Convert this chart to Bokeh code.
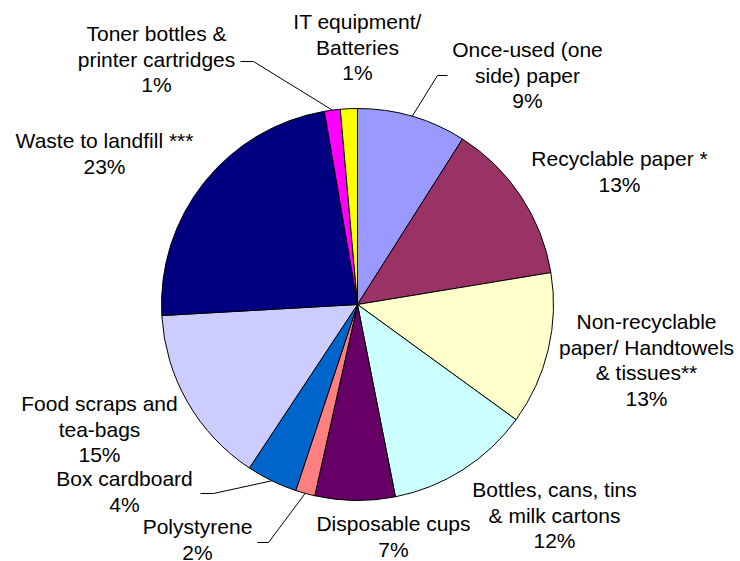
import math
from bokeh.plotting import figure
from bokeh.models import Range1d, ColumnDataSource
from bokeh.core.properties import value
from bokeh.embed import file_html
from bokeh.resources import INLINE

# ---- data ----
categories = [
    "Once-used (one side) paper",
    "Recyclable paper *",
    "Non-recyclable paper/ Handtowels & tissues**",
    "Bottles, cans, tins & milk cartons",
    "Disposable cups",
    "Polystyrene",
    "Box cardboard",
    "Food scraps and tea-bags",
    "Waste to landfill ***",
    "Toner bottles & printer cartridges",
    "IT equipment/ Batteries",
]
shares = [9.0, 13.4, 12.6, 11.9, 6.6, 1.6, 4.2, 14.8, 23.2, 1.3, 1.4]
label_lines = [
    ["Once-used (one", "side) paper"],
    ["Recyclable paper *"],
    ["Non-recyclable", "paper/ Handtowels", "& tissues**"],
    ["Bottles, cans, tins", "& milk cartons"],
    ["Disposable cups"],
    ["Polystyrene"],
    ["Box cardboard"],
    ["Food scraps and", "tea-bags"],
    ["Waste to landfill ***"],
    ["Toner bottles &", "printer cartridges"],
    ["IT equipment/", "Batteries"],
]

# ---- styles / layout ----
colors = ["#9999FF", "#993366", "#FFFFCC", "#CCFFFF", "#660066", "#FF8080",
          "#0066CC", "#CCCCFF", "#000080", "#FF00FF", "#FFFF00"]
# label anchor: centre x and first baseline y (image pixel coords)
label_pos = [(527, 58), (619, 167), (646, 330), (554, 498), (393, 532),
             (197, 535), (124, 487), (99, 412), (104, 149), (156, 42), (357, 30)]
TEXT_SHIFT = -9
# leader lines: index -> (elbow, end) in image coords
leaders = {0: ((437, 75), (447, 75)),
           9: ((253, 61), (240, 61)),
           6: ((213, 493), (200, 493)),
           5: ((268, 542), (257, 542))}
LINE_H = 25.5
CX, CY, R = 357, 304, 196
W, H = 740, 561


def Y(iy):
    return H - iy


p = figure(width=W, height=H, x_range=Range1d(0, W), y_range=Range1d(0, H),
           output_backend="svg", toolbar_location=None, min_border=0)
p.axis.visible = False
p.grid.visible = False
p.outline_line_color = None
p.background_fill_color = "white"
p.border_fill_color = "white"

total = sum(shares)
cum = 0.0
starts, ends, mids = [], [], []
for v in shares:
    a0 = cum / total
    cum += v
    a1 = cum / total
    starts.append(math.pi / 2 - 2 * math.pi * a1)
    ends.append(math.pi / 2 - 2 * math.pi * a0)
    mids.append(math.pi / 2 - 2 * math.pi * (a0 + a1) / 2)

src = ColumnDataSource(dict(x=[CX] * len(shares), y=[Y(CY)] * len(shares),
                            start=starts, end=ends, color=colors,
                            cat=categories, share=shares))
p.wedge(x="x", y="y", radius=R, start_angle="start", end_angle="end",
        fill_color="color", line_color="black", line_width=1, source=src)

# leader lines
for i, (elbow, end) in leaders.items():
    ex = CX + R * math.cos(mids[i])
    ey = Y(CY) + R * math.sin(mids[i])
    p.line([ex, elbow[0], end[0]], [ey, Y(elbow[1]), Y(end[1])],
           line_color="black", line_width=1)

# labels
tx, ty, tt = [], [], []
for i, lines in enumerate(label_lines):
    pct = f"{round(shares[i] / total * 100):.0f}%"
    cx, by = label_pos[i]
    for k, ln in enumerate(lines + [pct]):
        tx.append(cx)
        ty.append(Y(by + TEXT_SHIFT + k * LINE_H))
        tt.append(ln)
p.text(x=tx, y=ty, text=tt, text_align="center", text_baseline="alphabetic",
       text_font=value("Liberation Sans"), text_font_size="21px",
       text_color="black")

open("out.html", "w").write(file_html(p, INLINE))
